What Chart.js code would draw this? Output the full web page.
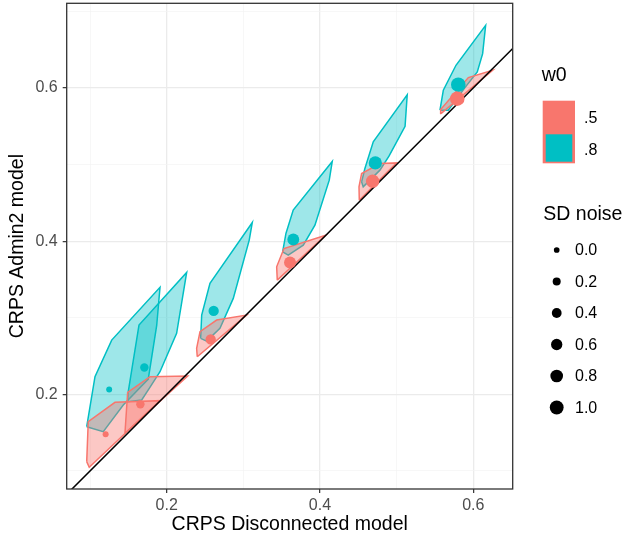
<!DOCTYPE html>
<html>
<head>
<meta charset="utf-8">
<script src="https://cdn.jsdelivr.net/npm/chart.js@4.4.0/dist/chart.umd.min.js"></script>
<style>
  html, body { margin: 0; padding: 0; background: #fff; }
  #wrap { width: 625px; height: 539px; }
</style>
</head>
<body>
<div id="wrap"><canvas id="crpsChart" width="625" height="539"></canvas></div>
<script>
// SD noise levels (one hull + point per level and w0)
const sdNoise = [0.0, 0.2, 0.4, 0.6, 0.8, 1.0];
const w0Levels = ['.5', '.8'];

// mean CRPS, w0 = .5
const redX = [0.1204, 0.1657, 0.2574, 0.3609, 0.4687, 0.5791];
const redY = [0.1480, 0.1870, 0.2717, 0.3722, 0.4783, 0.5860];
// mean CRPS, w0 = .8
const tealX = [0.1250, 0.1709, 0.2613, 0.3652, 0.4722, 0.5804];
const tealY = [0.2065, 0.2350, 0.3090, 0.4022, 0.5022, 0.6043];

// hull outlines [x, y], w0 = .5
const redHulls = [
  [[0.0957, 0.1122], [0.0977, 0.1644], [0.1326, 0.1897], [0.1913, 0.1918], [0.0990, 0.1049]],
  [[0.1456, 0.1492], [0.1491, 0.2027], [0.1782, 0.2231], [0.2274, 0.2240]],
  [[0.2399, 0.2491], [0.2391, 0.2601], [0.2435, 0.2818], [0.2652, 0.2970], [0.3043, 0.3035]],
  [[0.3443, 0.3491], [0.3435, 0.3665], [0.3530, 0.3904], [0.4074, 0.4078]],
  [[0.4513, 0.4535], [0.4509, 0.4709], [0.4543, 0.4883], [0.4783, 0.5013], [0.5000, 0.5022]],
  [[0.5578, 0.5665], [0.5574, 0.5717], [0.5935, 0.6135], [0.6252, 0.6230]]
];
// hull outlines [x, y], w0 = .8
const tealHulls = [
  [[0.0957, 0.1578], [0.1065, 0.2231], [0.1283, 0.2709], [0.1913, 0.3397], [0.1870, 0.2900], [0.1760, 0.2200], [0.1434, 0.1861], [0.1173, 0.1513]],
  [[0.1499, 0.2035], [0.1639, 0.2905], [0.2261, 0.3592], [0.2130, 0.2797], [0.1913, 0.2296], [0.1773, 0.2079], [0.1674, 0.1927], [0.1491, 0.1904]],
  [[0.2443, 0.2731], [0.2457, 0.3035], [0.2565, 0.3449], [0.3117, 0.4244], [0.3077, 0.4014], [0.2869, 0.3253], [0.2695, 0.2862], [0.2522, 0.2696]],
  [[0.3513, 0.3861], [0.3556, 0.4101], [0.3651, 0.4405], [0.4160, 0.5040], [0.4121, 0.4796], [0.3934, 0.4209], [0.3782, 0.3948], [0.3586, 0.3818]],
  [[0.4543, 0.4774], [0.4586, 0.4949], [0.4695, 0.5296], [0.5138, 0.5910], [0.5110, 0.5500], [0.4900, 0.5110], [0.4782, 0.4927], [0.4564, 0.4709]],
  [[0.5565, 0.5709], [0.5609, 0.5970], [0.5774, 0.6296], [0.6161, 0.6817], [0.6122, 0.6448], [0.6052, 0.6209], [0.5891, 0.6004], [0.5674, 0.5709]]
];

// axes
const xLimits = [0.0696, 0.6514];
const yLimits = [0.0765, 0.7105];
const majorTicks = [0.2, 0.4, 0.6];
const xGrid = [0.1, 0.2, 0.3, 0.4, 0.5, 0.6];
const yGrid = [0.1, 0.2, 0.3, 0.4, 0.5, 0.6, 0.7];

const RED = '#F8766D';
const TEAL = '#00BFC4';

Chart.defaults.font.family = '"Liberation Sans", Arial, sans-serif';

// ggplot-like area scaling of point size
function pointSize(sd) {
  return Math.sqrt(9 + (53 - 9) * sd);
}

function isMajor(v) {
  return majorTicks.some(m => Math.abs(m - v) < 1e-6);
}

function hullDataset(hull, color, fillColor, order) {
  const pts = hull.map(p => ({ x: p[0], y: p[1] }));
  pts.push(pts[0]);
  return {
    type: 'scatter',
    data: pts,
    showLine: true,
    fill: 'shape',
    backgroundColor: fillColor,
    borderColor: color,
    borderWidth: 1.5,
    pointRadius: 0,
    tension: 0,
    order: order
  };
}

const datasets = [];
tealHulls.forEach(h => datasets.push(hullDataset(h, TEAL, 'rgba(0,191,196,0.38)', 4)));
redHulls.forEach(h => datasets.push(hullDataset(h, RED, 'rgba(248,118,109,0.40)', 3)));

// y = x reference line
datasets.push({
  type: 'scatter',
  data: xLimits.map(v => ({ x: v, y: v })),
  showLine: true,
  borderColor: '#000',
  borderWidth: 1.5,
  pointRadius: 0,
  clip: 0,
  order: 2
});

datasets.push({
  type: 'scatter',
  data: tealX.map((x, i) => ({ x: x, y: tealY[i] })),
  backgroundColor: TEAL,
  pointRadius: sdNoise.map(pointSize),
  pointBorderWidth: 0,
  order: 1
});
datasets.push({
  type: 'scatter',
  data: redX.map((x, i) => ({ x: x, y: redY[i] })),
  backgroundColor: RED,
  pointRadius: sdNoise.map(pointSize),
  pointBorderWidth: 0,
  order: 0
});

// panel border drawn over the data, like ggplot theme_bw
const panelBorder = {
  id: 'panelBorder',
  afterDatasetsDraw(chart) {
    const a = chart.chartArea;
    const c = chart.ctx;
    c.save();
    c.strokeStyle = '#333333';
    c.lineWidth = 1.3;
    c.strokeRect(a.left, a.top, a.right - a.left, a.bottom - a.top);
    c.restore();
  }
};

// two ggplot legends: w0 fill and SD noise size
const sideLegend = {
  id: 'sideLegend',
  afterDraw(chart) {
    const c = chart.ctx;
    c.save();
    c.fillStyle = '#000';
    c.textBaseline = 'middle';
    c.font = '19.5px "Liberation Sans", Arial, sans-serif';
    c.fillText('w0', 541.7, 76);

    c.fillStyle = RED;
    c.fillRect(542.7, 100.7, 32.3, 62.6);
    c.fillStyle = TEAL;
    c.fillRect(545.7, 134.3, 26.6, 27.4);

    c.fillStyle = '#000';
    c.font = '16px "Liberation Sans", Arial, sans-serif';
    c.fillText(w0Levels[0], 584, 118.5);
    c.fillText(w0Levels[1], 584, 150.5);

    c.font = '19.5px "Liberation Sans", Arial, sans-serif';
    c.fillText('SD noise', 543.3, 215);

    c.font = '16px "Liberation Sans", Arial, sans-serif';
    sdNoise.forEach((sd, i) => {
      const y = 250 + i * 31.5;
      c.beginPath();
      c.arc(556.7, y, pointSize(sd) * 0.95, 0, Math.PI * 2);
      c.fill();
      c.fillText(sd.toFixed(1), 575, y + 1);
    });
    c.restore();
  }
};

const ctx = document.getElementById('crpsChart').getContext('2d');
const crpsChart = new Chart(ctx, {
  type: 'scatter',
  data: { datasets: datasets },
  plugins: [panelBorder, sideLegend],
  options: {
    responsive: false,
    animation: false,
    devicePixelRatio: 1,
    layout: {
      autoPadding: false,
      padding: { top: 3.3, right: 112.3, bottom: 0, left: 0 }
    },
    plugins: {
      legend: { display: false },
      tooltip: { enabled: false }
    },
    scales: {
      x: {
        type: 'linear',
        min: xLimits[0],
        max: xLimits[1],
        afterBuildTicks: s => { s.ticks = xGrid.map(v => ({ value: v })); },
        afterFit: s => {
          s.height = 50;
          s.paddingLeft = 0;
          s.paddingRight = 0;
        },
        border: { display: false },
        grid: {
          color: c => isMajor(c.tick.value) ? '#EBEBEB' : '#F3F3F3',
          lineWidth: c => isMajor(c.tick.value) ? 1.3 : 0.7,
          tickColor: c => isMajor(c.tick.value) ? '#333333' : 'rgba(0,0,0,0)',
          tickLength: 4,
          tickWidth: 1.2
        },
        ticks: {
          autoSkip: false,
          maxRotation: 0,
          padding: 3,
          color: '#4D4D4D',
          font: { size: 16 },
          callback: v => isMajor(v) ? v.toFixed(1) : ''
        },
        title: {
          display: true,
          text: 'CRPS Disconnected model',
          color: '#000',
          font: { size: 19.5 },
          padding: { top: 0, bottom: 3 }
        }
      },
      y: {
        type: 'linear',
        min: yLimits[0],
        max: yLimits[1],
        afterBuildTicks: s => { s.ticks = yGrid.map(v => ({ value: v })); },
        afterFit: s => {
          s.width = 66.7;
          s.paddingTop = 0;
          s.paddingBottom = 0;
        },
        border: { display: false },
        grid: {
          color: c => isMajor(c.tick.value) ? '#EBEBEB' : '#F3F3F3',
          lineWidth: c => isMajor(c.tick.value) ? 1.3 : 0.7,
          tickColor: c => isMajor(c.tick.value) ? '#333333' : 'rgba(0,0,0,0)',
          tickLength: 4,
          tickWidth: 1.2
        },
        ticks: {
          autoSkip: false,
          padding: 5,
          color: '#4D4D4D',
          font: { size: 16 },
          callback: v => isMajor(v) ? v.toFixed(1) : ''
        },
        title: {
          display: true,
          text: 'CRPS Admin2 model',
          color: '#000',
          font: { size: 19.5 },
          padding: { top: 6, bottom: 0 }
        }
      }
    }
  }
});
</script>
</body>
</html>
